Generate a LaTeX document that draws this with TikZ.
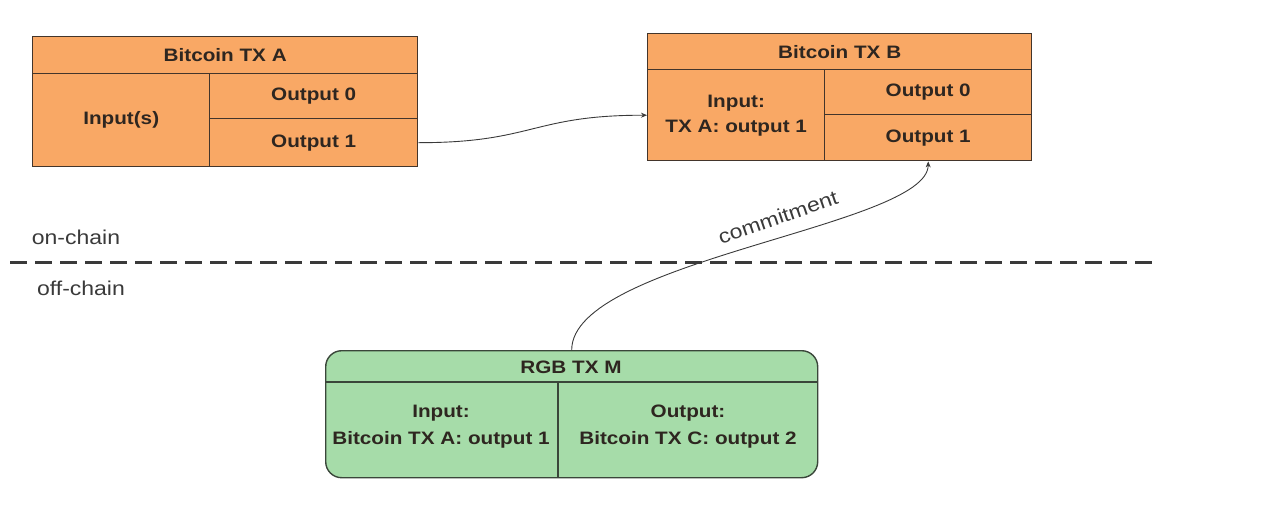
\documentclass[tikz,border=0pt]{standalone}
\usepackage{fontspec}
\setmainfont{Liberation Sans}[FakeStretch=1.15]
\usetikzlibrary{arrows.meta}
\definecolor{orangefill}{HTML}{F9A865}
\definecolor{greenfill}{HTML}{A6DCA9}
\definecolor{edgecol}{HTML}{43352B}
\definecolor{greenedge}{HTML}{3A463A}
\definecolor{txtcol}{HTML}{2E2620}
\definecolor{linecol}{HTML}{3A3A3A}
\begin{document}
\begin{tikzpicture}[x=1pt,y=-1pt,
  cell/.style={draw=edgecol, line width=1.4pt, fill=orangefill, anchor=north west, inner sep=0pt,
    align=center, font=\fontsize{18}{25}\selectfont\bfseries, text=txtcol},
  celltext/.style={inner sep=0pt, align=center, font=\fontsize{18}{27}\selectfont\bfseries, text=txtcol},
  plain/.style={inner sep=0pt, font=\fontsize{20}{22}\selectfont, text=linecol},
  conn/.style={draw=linecol, line width=0.9pt, -{Stealth[length=6pt,width=5pt]}}]
\useasboundingbox (0,0) rectangle (1278,512);
% Bitcoin TX A
\node[cell, minimum width=385pt, minimum height=37pt] (ahead) at (32,36) {Bitcoin TX A};
\node[cell, minimum width=177pt, minimum height=93pt] (ain) at (32,73) {Input(s)};
\node[cell, minimum width=208pt, minimum height=45pt] (a0) at (209,73) {Output 0};
\node[cell, minimum width=208pt, minimum height=48pt] (a1) at (209,118) {Output 1};
% Bitcoin TX B
\node[cell, minimum width=384pt, minimum height=36pt] (bhead) at (647,33) {Bitcoin TX B};
\node[cell, minimum width=177pt, minimum height=91pt] (bin) at (647,69) {Input:\\TX A: output 1};
\node[cell, minimum width=207pt, minimum height=45pt] (b0) at (824,69) {Output 0};
\node[cell, minimum width=207pt, minimum height=46pt] (b1) at (824,114) {Output 1};
% RGB TX M
\node[draw=greenedge, line width=1.4pt, fill=greenfill, rounded corners=16pt, anchor=north west,
  minimum width=492pt, minimum height=127pt, inner sep=0pt] (m) at (325,350) {};
\draw[draw=greenedge, line width=1.4pt] (325,382) -- (817,382);
\draw[draw=greenedge, line width=1.4pt] (558,382) -- (558,477);
\node[celltext] (mhead) at (571,367) {RGB TX M};
\node[celltext] (min) at (441,427) {Input:\\Bitcoin TX A: output 1};
\node[celltext] (mout) at (688,427) {Output:\\Bitcoin TX C: output 2};
% chain separator
\draw[draw=linecol, line width=3pt, dash pattern=on 17pt off 8pt] (10,262) -- (1153,262);
\node[plain] (on) at (76,237) {on-chain};
\node[plain] (off) at (81,288) {off-chain};
% connectors
\draw[conn] (a1.east) .. controls +(115,0) and +(-115,0) .. (bin.west);
\draw[conn] (m.north) .. controls +(0,-90) and +(0,65) .. (b1.south);
\node[plain, rotate=19] (commit) at (778,217) {commitment};
\end{tikzpicture}
\end{document}
